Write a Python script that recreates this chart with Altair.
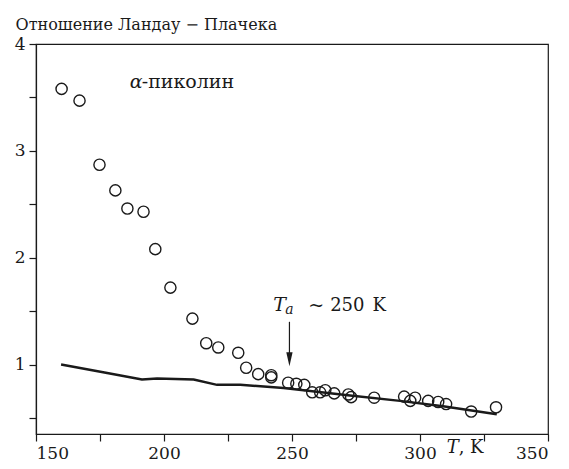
import altair as alt
import pandas as pd

# Data
pt_T = [160.0, 167.0, 174.8, 181.0, 185.7, 192.0, 196.6, 202.5, 211.1, 216.5, 221.2,
        229.0, 232.1, 236.8, 241.9, 241.9, 248.5, 251.7, 254.8, 257.9, 261.0, 263.0,
        266.5, 272.0, 273.1, 282.1, 293.8, 296.2, 298.1, 303.2, 307.1, 310.2, 320.0, 329.7]
pt_R = [3.58, 3.47, 2.87, 2.63, 2.46, 2.43, 2.08, 1.72, 1.43, 1.20, 1.16,
        1.11, 0.97, 0.91, 0.90, 0.88, 0.83, 0.82, 0.81, 0.74, 0.74, 0.76,
        0.73, 0.72, 0.695, 0.69, 0.70, 0.66, 0.69, 0.66, 0.65, 0.63, 0.56, 0.60]

line_T = [159.8, 177.8, 191.4, 197.3, 211.6, 220.7, 229.8, 246.7, 272.7, 292.2, 309.0, 330.0]
line_R = [1.00, 0.92, 0.86, 0.87, 0.86, 0.81, 0.81, 0.78, 0.71, 0.66, 0.61, 0.535]

x_ticks = [150, 175, 200, 225, 250, 275, 300, 325, 350]
y_ticks = [0.5, 1, 1.5, 2, 2.5, 3, 3.5, 4]

FONT = "DejaVu Serif"
INK = "#1a1a1a"

pts = pd.DataFrame({"T": pt_T, "R": pt_R})
ln = pd.DataFrame({"T": line_T, "R": line_R})

xs = alt.Scale(domain=[150, 350], nice=False, zero=False)
ys = alt.Scale(domain=[0.35, 4], nice=False, zero=False)

axis_common = dict(domainColor=INK, domainWidth=1.2, tickColor=INK, tickWidth=1.2,
                   labelFont=FONT, labelFontSize=17, labelColor=INK, title=None, grid=False)

points = alt.Chart(pts).mark_point(shape="circle", size=125, filled=False,
                                   stroke=INK, strokeWidth=1.4, opacity=1).encode(
    x=alt.X("T:Q", scale=xs,
            axis=alt.Axis(values=x_ticks, tickSize=7, labelPadding=4,
                          labelExpr="datum.value % 50 == 0 ? format(datum.value, 'd') : ''",
                          orient="bottom", **axis_common)),
    y=alt.Y("R:Q", scale=ys,
            axis=alt.Axis(values=y_ticks, tickSize=7, labelPadding=4,
                          labelExpr="datum.value % 1 == 0 ? format(datum.value, 'd') : ''",
                          orient="left", **axis_common)),
)

curve = alt.Chart(ln).mark_line(color=INK, strokeWidth=2.5).encode(
    x=alt.X("T:Q", scale=xs), y=alt.Y("R:Q", scale=ys))

# Annotations (positions in data units)
ann = pd.DataFrame({
    "T": [142.0, 186.6, 191.3, 242.7, 247.4, 256.3, 264.9, 281.4, 315.1, 315.1],
    "R": [4.131, 3.585, 3.585, 1.503, 1.469, 1.503, 1.503, 1.503, 0.17, 0.17],
    "txt": ["Отношение Ландау − Плачека", "α", "-пиколин", "T", "a", "~", "250", "K", "T", ", K"],
    "style": ["normal", "italic", "normal", "italic", "italic", "normal", "normal", "normal",
              "italic", "normal"],
    "size": [16, 19, 19, 19, 14, 19, 18, 18, 18, 18],
    "al": ["left", "left", "left", "left", "left", "left", "left", "left", "right", "left"],
})

def txt(df):
    out = []
    for i, row in df.iterrows():
        out.append(alt.Chart(df.iloc[[i]]).mark_text(
            font=FONT, fontSize=int(row["size"]), fontStyle=row["style"], align=row["al"],
            baseline="alphabetic", color=INK, clip=False).encode(
            x=alt.X("T:Q", scale=xs), y=alt.Y("R:Q", scale=ys), text="txt:N"))
    return out

# Arrow for T_a
arrow_T = [249.0]
arrow_top = [1.40]
arrow_head = [1.05]
arr = pd.DataFrame({"T": arrow_T, "R": arrow_top, "R2": arrow_head})
shaft = alt.Chart(arr).mark_rule(color=INK, strokeWidth=1.2).encode(
    x=alt.X("T:Q", scale=xs), y=alt.Y("R:Q", scale=ys), y2="R2:Q")
head = alt.Chart(arr).mark_point(shape="M-0.45,-1L0.45,-1L0,1Z", size=196, filled=True,
                                 color=INK, opacity=1).encode(
    x=alt.X("T:Q", scale=xs), y=alt.Y("R2:Q", scale=ys))

chart = alt.layer(points, curve, shaft, head, *txt(ann)).properties(
    width=512, height=390,
    autosize=alt.AutoSizeParams(type="none"),
    padding={"left": 36, "top": 44, "right": 21, "bottom": 35},
    background="white",
).configure_view(stroke=INK, strokeWidth=1.2)

chart.save("out.html", embed_options={"renderer": "svg", "actions": False})
